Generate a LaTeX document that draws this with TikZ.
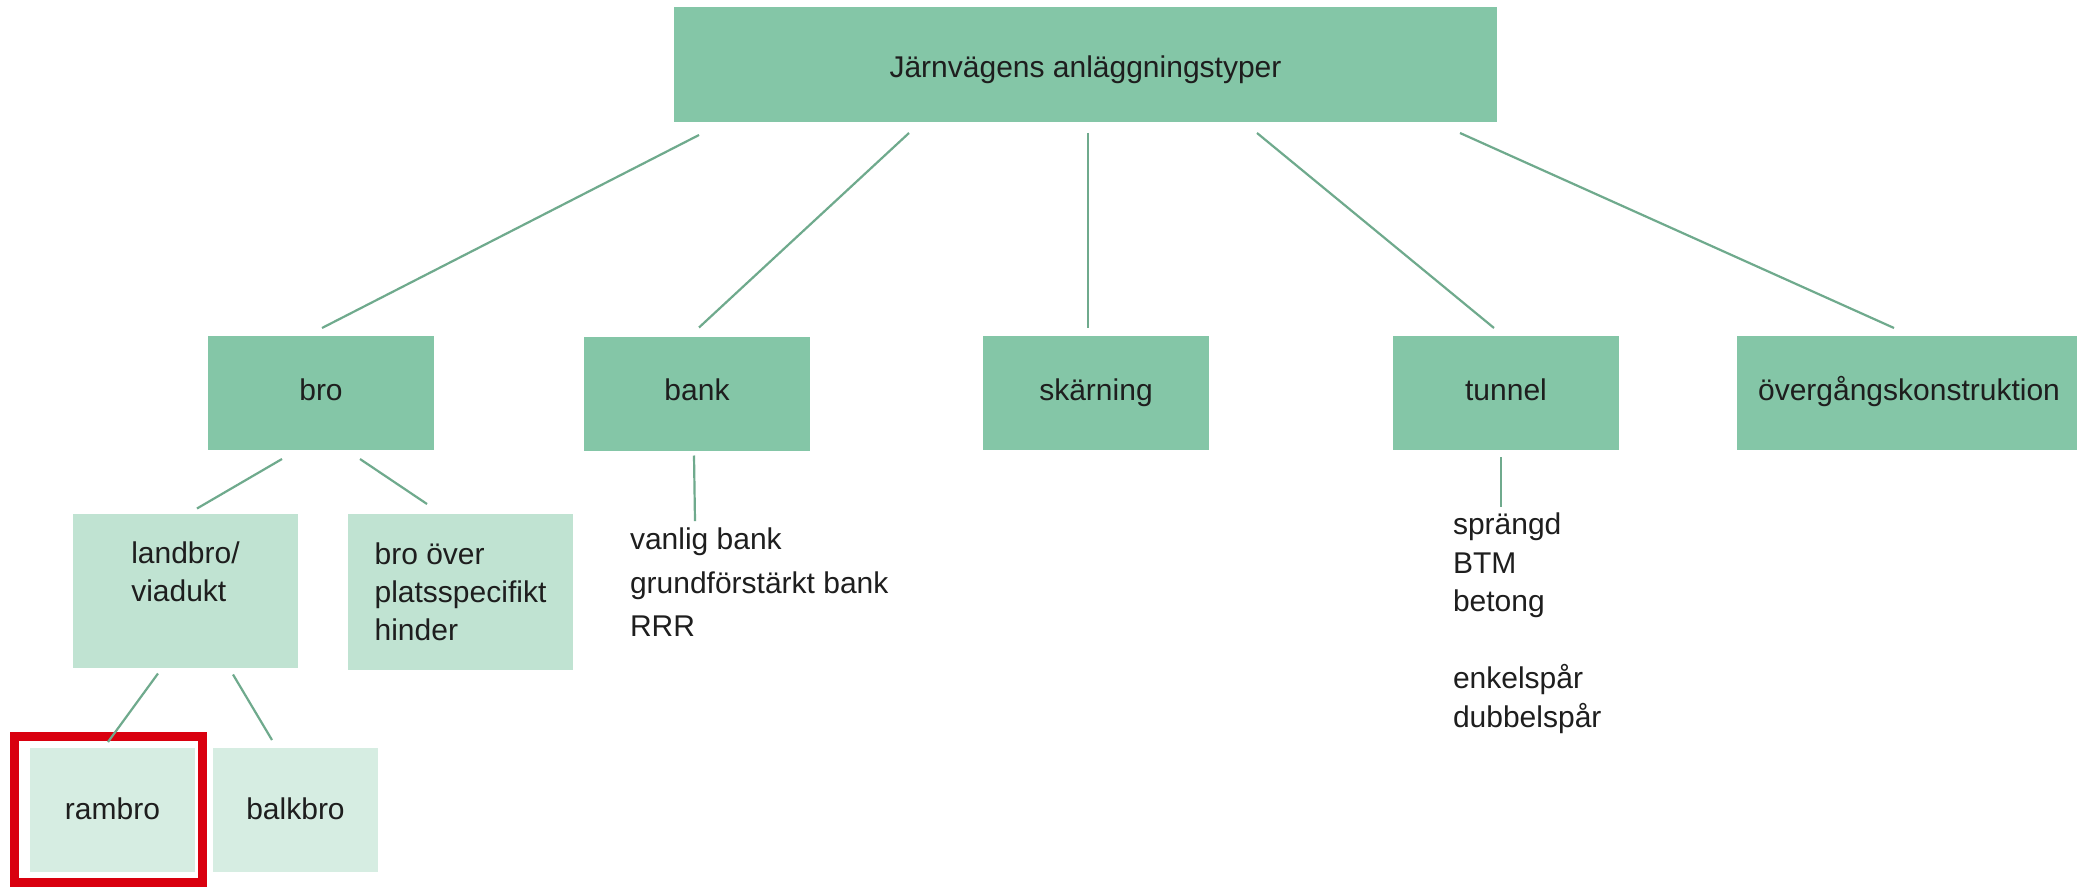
\documentclass[tikz,border=0pt]{standalone}
\usepackage{fontspec}
\setmainfont{Liberation Sans}
\usetikzlibrary{calc}
\definecolor{boxdark}{HTML}{84C6A7}
\definecolor{boxmid}{HTML}{C0E3D2}
\definecolor{boxlight}{HTML}{D6EDE2}
\definecolor{linkcol}{HTML}{6FAA8D}
\definecolor{txt}{HTML}{1E1E1E}
\definecolor{hlred}{HTML}{D9000F}
\begin{document}
\begin{tikzpicture}[x=1pt,y=-1pt,
  every node/.style={inner sep=0pt, outer sep=0pt, text=txt, font=\fontsize{30}{38}\selectfont},
  darkbox/.style={fill=boxdark, minimum width=226pt, minimum height=114pt, text height=22pt, text depth=8pt},
  midbox/.style={fill=boxmid, minimum width=225pt, minimum height=154pt, align=left},
  lightbox/.style={fill=boxlight, minimum width=165pt, minimum height=124pt, text height=24pt, text depth=6pt},
  link/.style={draw=linkcol, line width=2.2pt},
  listtext/.style={align=left, anchor=north west},
  hlframe/.style={draw=hlred, line width=9pt, minimum width=188pt, minimum height=146pt}]
\useasboundingbox (0,0) rectangle (2077,888);
\fill[white] (0,0) rectangle (2077,888);
\clip (0,0) rectangle (2077,888);

% level 1
\node[darkbox, minimum width=823pt, minimum height=115pt, text height=30pt, text depth=3pt] (top) at (1085.5,64.5) {Järnvägens anläggningstyper};

% level 2
\node[darkbox] (bro) at (321,393) {bro};
\node[darkbox] (bank) at (697,393.5) {bank};
\node[darkbox] (skarning) at (1096,393) {skärning};
\node[darkbox] (tunnel) at (1506,393) {tunnel};
\node[darkbox, minimum width=344pt] (over) at (1909,393) {övergångskonstruktion};

% level 3
\node[midbox] (landbro) at (185.5,590.5) {landbro/\\viadukt\\\mbox{}};
\node[midbox, minimum height=156pt] (broover) at (460.5,592) {bro över\\platsspecifikt\\hinder};

% level 4
\node[lightbox] (rambro) at (112.5,810) {rambro};
\node[lightbox] (balkbro) at (295.5,810) {balkbro};
\node[hlframe] (hl) at (108.5,809.5) {};

% lists
\node[listtext, font=\fontsize{30}{43.5}\selectfont] (banklist) at (630,528.1) {vanlig bank\\grundförstärkt bank\\RRR};
\node[listtext, font=\fontsize{30}{38.5}\selectfont] (tunnellist) at (1453,513.1) {sprängd\\BTM\\betong\\\mbox{}\\enkelspår\\dubbelspår};

% connectors
\draw[link] ($(top.south west)+(25,13)$) -- ($(bro.north)+(1,-8)$);
\draw[link] ($(top.south west)+(235,11)$) -- ($(bank.north)+(2,-9)$);
\draw[link] ($(top.south west)+(414,11)$) -- ($(skarning.north)+(-8,-8)$);
\draw[link] ($(top.south west)+(583,11)$) -- ($(tunnel.north)+(-12,-8)$);
\draw[link] ($(top.south west)+(786,11)$) -- ($(over.north)+(-15,-8)$);
\draw[link] ($(bro.south)+(-39,9)$) -- ($(landbro.north)+(11.5,-5)$);
\draw[link] ($(bro.south)+(39,9)$) -- ($(broover.north)+(-33.5,-10)$);
\draw[link] ($(landbro.south)+(-27.5,6)$) -- ($(rambro.north)+(-4.5,-6)$);
\draw[link] ($(landbro.south)+(47.5,7)$) -- ($(balkbro.north)+(-23.5,-8)$);
\draw[link] ($(bank.south)+(-3,5)$) -- ($(banklist.north west)+(65,-7)$);
\draw[link] ($(tunnel.south)+(-5,7)$) -- ($(tunnellist.north west)+(48,-6)$);
\end{tikzpicture}
\end{document}
